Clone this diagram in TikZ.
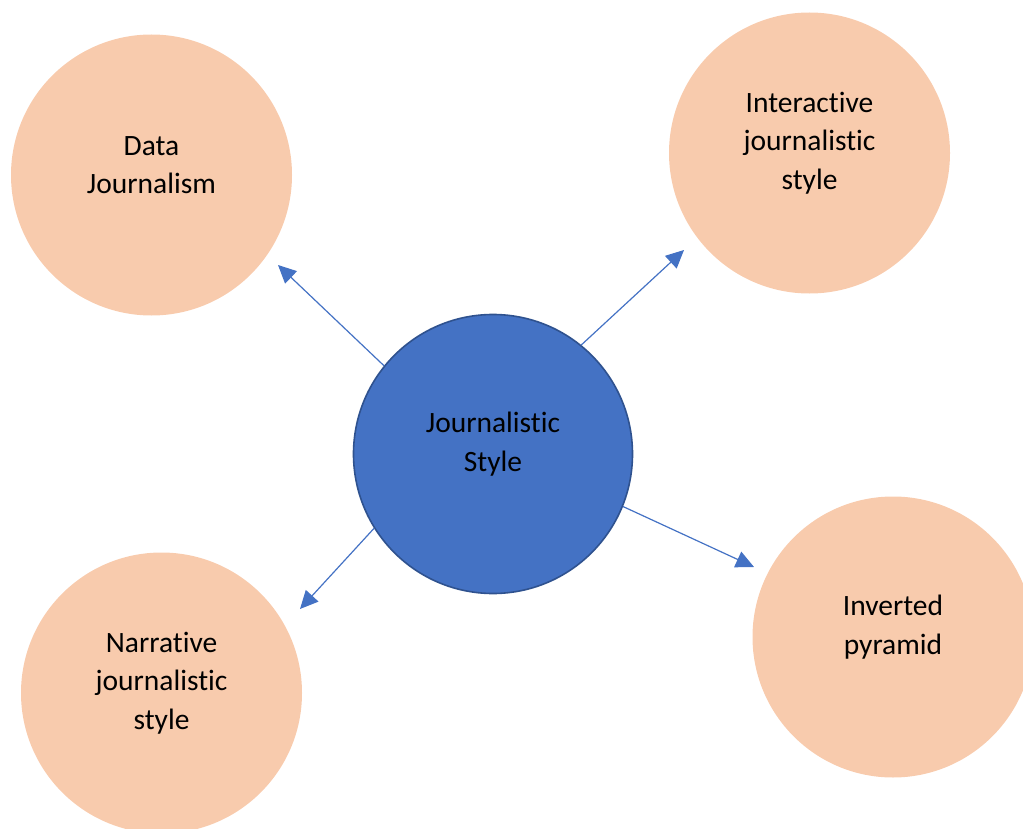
\documentclass[tikz,border=0pt]{standalone}
\usepackage{fontspec}
\setmainfont{Carlito}[Ligatures=NoCommon]
\usepackage{tikz}
\usetikzlibrary{arrows.meta,positioning}

\definecolor{coreblue}{HTML}{4472C4}
\definecolor{coreedge}{HTML}{2F528F}
\definecolor{peach}{HTML}{F8CBAD}

\tikzset{
	bubble/.style={circle, fill=peach, minimum size=281pt, inner sep=0pt},
	core/.style={circle, fill=coreblue, draw=coreedge, line width=1.6pt, minimum size=279pt, inner sep=0pt},
	words/.style={align=center, font=\fontsize{29.5}{38.5}\selectfont, yshift=10pt},
	link/.style={draw=coreblue, line width=1.2pt, -{Triangle[length=18pt,width=17pt]}}
}

\begin{document}
\begin{tikzpicture}[x=1pt, y=-1pt]
	\clip (0,0) rectangle (1023,829);
	% circles
	\node[bubble] (data) at (151.5,175) {};
	\node[bubble] (inter) at (809.5,153) {};
	\node[bubble] (narr) at (161.5,693) {};
	\node[bubble] (inv) at (893,637) {};
	\node[core] (style) at (493,454) {};
	% texts
	\node[words] (dataT) at (data) {Data\\Journalism};
	\node[words] (interT) at (inter) {Interactive\\journalistic\\style};
	\node[words] (narrT) at (narr) {Narrative\\journalistic\\style};
	\node[words] (invT) at (inv) {Inverted\\pyramid};
	\node[words] (styleT) at (style) {Journalistic\\Style};
	% arrow tips
	\coordinate (dataTip) at (278,265);
	\coordinate (interTip) at (684,250);
	\coordinate (narrTip) at (300,609);
	\coordinate (invTip) at (754,567);
	\draw[link] (style.141) -- (dataTip);
	\draw[link] (style.51) -- (interTip);
	\draw[link] (style.212) -- (narrTip);
	\draw[link] (style.338) -- (invTip);
\end{tikzpicture}
\end{document}
